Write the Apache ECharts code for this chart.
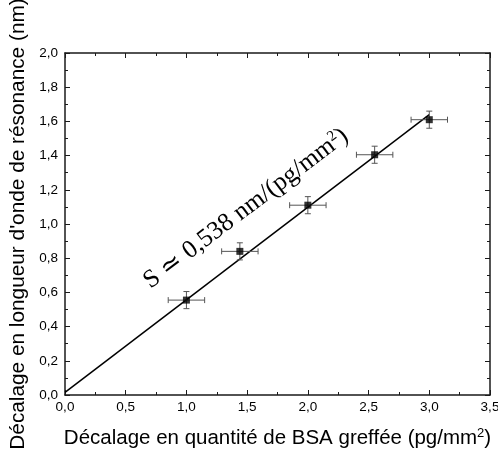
<!DOCTYPE html>
<html>
<head>
<meta charset="utf-8">
<script src="https://cdn.jsdelivr.net/npm/echarts@6/dist/echarts.min.js"></script>
<style>
html,body{margin:0;padding:0;background:#fff;}
#chart{width:498px;height:457px;}
</style>
</head>
<body>
<div id="chart"></div>
<script>
// Data
var xVals = [1.0, 1.44, 2.0, 2.55, 3.0];
var yVals = [0.555, 0.84, 1.11, 1.405, 1.61];
var xErr = [0.15, 0.15, 0.15, 0.15, 0.15];
var yErr = [0.05, 0.05, 0.05, 0.05, 0.05];
var fitLine = [[0, 0.015], [3.0, 1.64]];
var xTitle = 'Décalage en quantité de BSA greffée (pg/mm{sup|2})';
var yTitle = "Décalage en longueur d'onde de résonance (nm)";
var annotText = 'S \u2243 0,538 nm/(pg/mm{sup|2})';
var annotPos = [1.49, 1.09];

var points = xVals.map(function (x, i) { return [x, yVals[i]]; });
var errData = xVals.map(function (x, i) { return [x, yVals[i], xErr[i], yErr[i]]; });

var chart = echarts.init(document.getElementById('chart'));
function fmt(v) { return v.toFixed(1).replace('.', ','); }
var axisCol = '#1a1a1a';
var common = {
  axisLine: { show: true, onZero: false, lineStyle: { color: axisCol, width: 1.5 } },
  axisTick: { show: true, inside: true, length: 5, lineStyle: { color: axisCol, width: 1 } },
  minorTick: { show: true, splitNumber: 2, length: 3, lineStyle: { color: axisCol, width: 1 } },
  splitLine: { show: false }
};
var option = {
  animation: false,
  grid: { left: 65, right: 8, top: 53, bottom: 62, containLabel: false, outerBoundsMode: 'none' },
  xAxis: [
    Object.assign({
      type: 'value', min: 0, max: 3.5, interval: 0.5, position: 'bottom',
      axisLabel: { formatter: fmt, color: '#000', fontSize: 13.5, fontFamily: 'Liberation Sans', margin: 5 },
      name: xTitle, nameLocation: 'middle', nameGap: 32,
      nameTextStyle: { color: '#000', fontSize: 20.5, fontFamily: 'Liberation Sans',
        rich: { sup: { fontSize: 13, verticalAlign: 'top', padding: [0,0,9,0], fontFamily: 'Liberation Sans', color: '#000' } } }
    }, common),
    Object.assign({
      type: 'value', min: 0, max: 3.5, interval: 0.5, position: 'top',
      axisLabel: { show: false }
    }, common)
  ],
  yAxis: [
    Object.assign({
      type: 'value', min: 0, max: 2.0, interval: 0.2, position: 'left',
      axisLabel: { formatter: fmt, color: '#000', fontSize: 13.5, fontFamily: 'Liberation Sans', margin: 7 },
      name: yTitle, nameLocation: 'middle', nameGap: 35,
      nameTextStyle: { color: '#000', fontSize: 20.8, fontFamily: 'Liberation Sans' }
    }, common),
    Object.assign({
      type: 'value', min: 0, max: 2.0, interval: 0.2, position: 'right',
      axisLabel: { show: false }
    }, common)
  ],
  series: [
    {
      type: 'line', data: fitLine, showSymbol: false, symbol: 'none',
      lineStyle: { color: '#000', width: 1.5 }, z: 2
    },
    {
      type: 'custom', data: errData, z: 3,
      renderItem: function (params, api) {
        var x = api.value(0), y = api.value(1), ex = api.value(2), ey = api.value(3);
        var l = api.coord([x - ex, y]), r = api.coord([x + ex, y]);
        var b = api.coord([x, y - ey]), t = api.coord([x, y + ey]);
        var c = 3;
        var st = { stroke: '#555', lineWidth: 1, fill: null };
        return {
          type: 'group',
          children: [
            { type: 'line', shape: { x1: l[0], y1: l[1], x2: r[0], y2: r[1] }, style: st },
            { type: 'line', shape: { x1: l[0], y1: l[1] - c, x2: l[0], y2: l[1] + c }, style: st },
            { type: 'line', shape: { x1: r[0], y1: r[1] - c, x2: r[0], y2: r[1] + c }, style: st },
            { type: 'line', shape: { x1: b[0], y1: b[1], x2: t[0], y2: t[1] }, style: st },
            { type: 'line', shape: { x1: b[0] - c, y1: b[1], x2: b[0] + c, y2: b[1] }, style: st },
            { type: 'line', shape: { x1: t[0] - c, y1: t[1], x2: t[0] + c, y2: t[1] }, style: st }
          ]
        };
      }
    },
    {
      type: 'scatter', data: points, symbol: 'rect', symbolSize: 7,
      itemStyle: { color: '#000' }, z: 4
    }
  ]
};
chart.setOption(option);
var p = chart.convertToPixel({ xAxisIndex: 0, yAxisIndex: 0 }, annotPos);
chart.setOption({
  graphic: [{
    type: 'text', x: p[0], y: p[1], rotation: 37 * Math.PI / 180,
    style: {
      text: annotText, fill: '#000', fontSize: 25.5, fontFamily: 'Liberation Serif',
      align: 'center', verticalAlign: 'middle',
      rich: { sup: { fontSize: 15, fontFamily: 'Liberation Serif', verticalAlign: 'top', padding: [0,0,12,0], fill: '#000' } }
    }
  }]
});
</script>
</body>
</html>
